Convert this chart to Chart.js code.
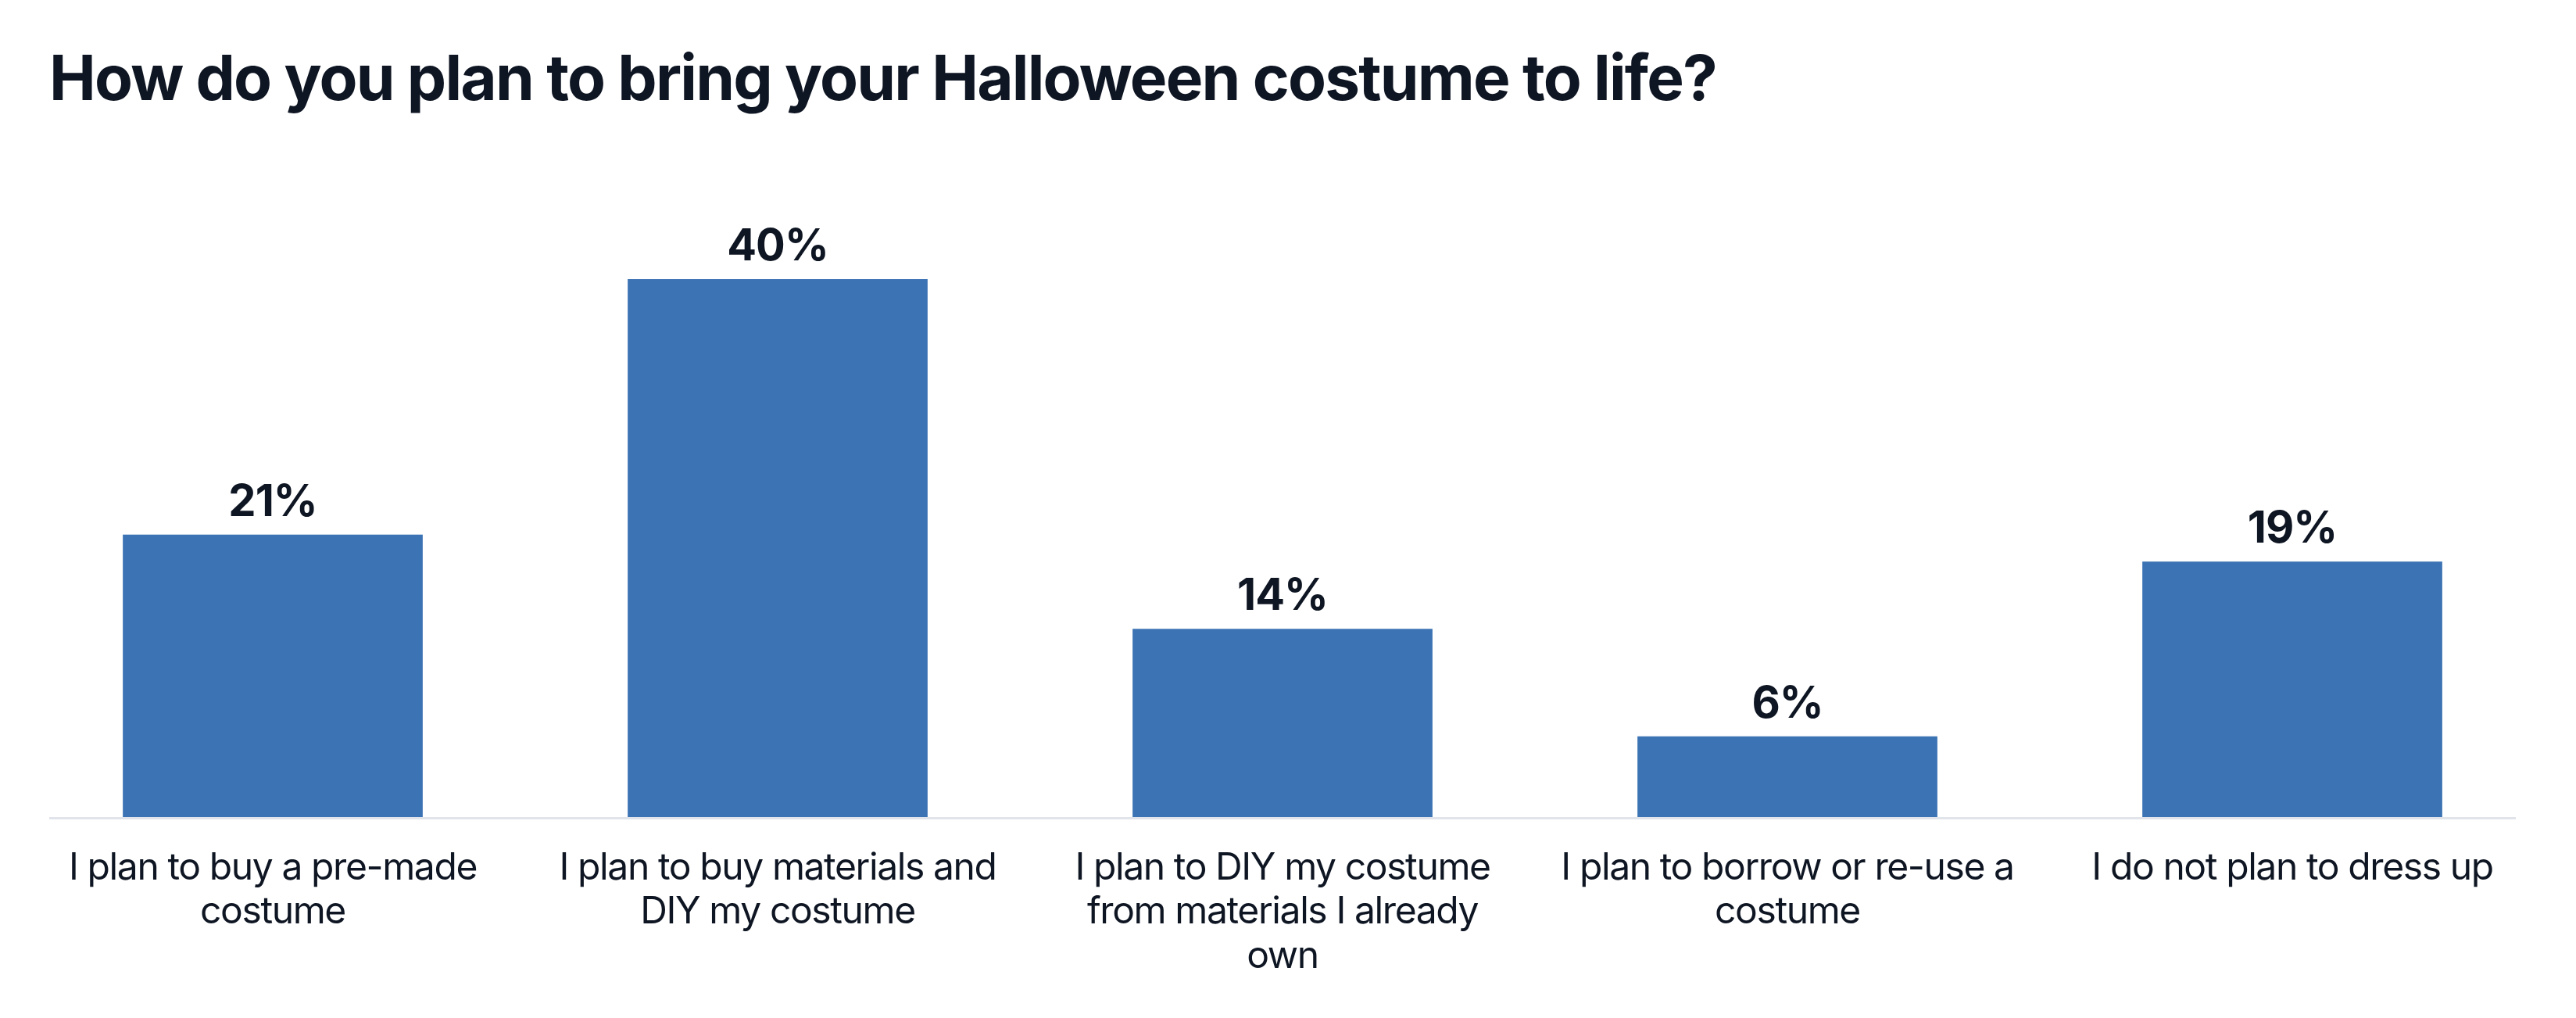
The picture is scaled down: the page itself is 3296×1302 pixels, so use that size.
<!DOCTYPE html>
<html>
<head>
<meta charset="utf-8">
<script src="https://cdn.jsdelivr.net/npm/chart.js@4.4.1/dist/chart.umd.min.js"></script>
<style>
  html, body { margin: 0; padding: 0; background: #ffffff; }
  body { width: 3296px; height: 1302px; position: relative; overflow: hidden; }
  #title {
    position: absolute; left: 63px; top: 59px; margin: 0;
    font-family: Inter, "Noto Sans", sans-serif; font-weight: 700;
    font-size: 80px; line-height: 1; letter-spacing: -1.8px; color: #0f1623;
    white-space: nowrap;
  }
  #c { position: absolute; left: 0; top: 0; }
</style>
</head>
<body>
<h1 id="title">How do you plan to bring your Halloween costume to life?</h1>
<canvas id="c" width="3296" height="1302"></canvas>
<script>
const categories = [
  ["I plan to buy a pre-made", "costume"],
  ["I plan to buy materials and", "DIY my costume"],
  ["I plan to DIY my costume", "from materials I already", "own"],
  ["I plan to borrow or re-use a", "costume"],
  ["I do not plan to dress up"]
];
const values = [21, 40, 14, 6, 19];
const valueLabels = ["21%", "40%", "14%", "6%", "19%"];

const TEXT = '#0f1623';

const valueLabelPlugin = {
  id: 'valueLabels',
  afterDatasetsDraw(chart) {
    const ctx = chart.ctx;
    const meta = chart.getDatasetMeta(0);
    ctx.save();
    ctx.font = '700 56px Inter, "Noto Sans", sans-serif';
    ctx.letterSpacing = '-1px';
    ctx.fillStyle = TEXT;
    ctx.textAlign = 'center';
    ctx.textBaseline = 'alphabetic';
    meta.data.forEach((bar, i) => {
      ctx.fillText(valueLabels[i], bar.x, bar.y - 24);
    });
    ctx.restore();
  }
};

const baselinePlugin = {
  id: 'baseline',
  beforeDatasetsDraw(chart) {
    const ctx = chart.ctx;
    const y = chart.scales.y.getPixelForValue(0);
    const inset = 37;
    ctx.save();
    ctx.strokeStyle = '#e1e4eb';
    ctx.lineWidth = 3;
    ctx.beginPath();
    ctx.moveTo(chart.chartArea.left + inset, y + 1.5);
    ctx.lineTo(chart.chartArea.right - inset, y + 1.5);
    ctx.stroke();
    ctx.restore();
  }
};

const spacingPlugin = {
  id: 'spacing',
  beforeDraw(chart) { chart.ctx.letterSpacing = '-1.4px'; },
  afterDraw(chart) { chart.ctx.letterSpacing = '0px'; }
};

new Chart(document.getElementById('c'), {
  type: 'bar',
  data: {
    labels: categories,
    datasets: [{
      data: values,
      backgroundColor: '#3c73b4',
      borderWidth: 0,
      barPercentage: 0.594,
      categoryPercentage: 1.0
    }]
  },
  options: {
    responsive: false,
    devicePixelRatio: 1,
    animation: false,
    layout: { padding: { top: 271, left: 26, right: 40, bottom: 0 } },
    plugins: { legend: { display: false }, tooltip: { enabled: false }, title: { display: false } },
    scales: {
      x: {
        grid: { display: false, drawTicks: false },
        border: { display: false },
        ticks: {
          color: TEXT,
          padding: 37,
          maxRotation: 0,
          autoSkip: false,
          font: { family: 'Inter, "Noto Sans", sans-serif', size: 48, weight: '400', lineHeight: 1.18 }
        },
        afterFit(s) { s.height = 257; }
      },
      y: {
        display: false,
        min: 0,
        max: 45
      }
    }
  },
  plugins: [spacingPlugin, baselinePlugin, valueLabelPlugin]
});
</script>
</body>
</html>
